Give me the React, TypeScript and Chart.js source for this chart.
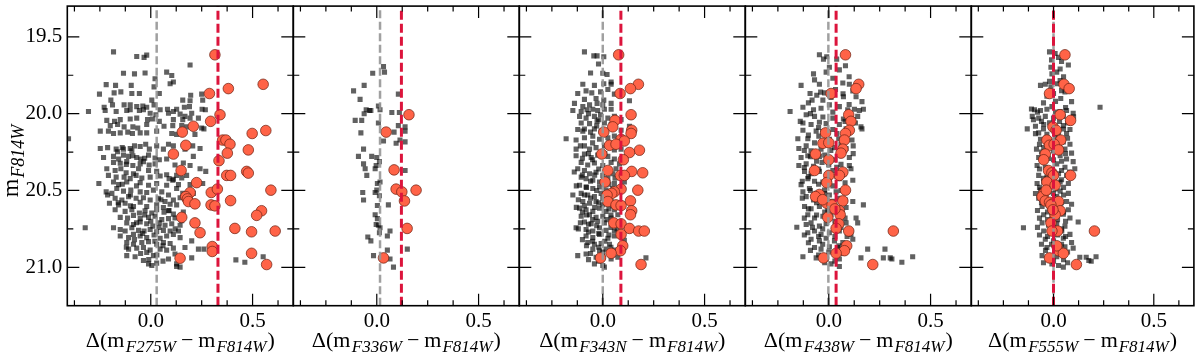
import React, { useEffect, useRef } from 'react';
import { Chart, registerables } from 'chart.js';

Chart.register(...registerables);

// ---------------- axis ranges & ticks ----------------
const X_MIN = -0.41;
const X_MAX = 0.70;
const Y_TOP = 19.30;
const Y_BOTTOM = 21.25;
const xMajorTicks = [0.0, 0.5];
const xMinorTicks = [-0.375, -0.25, -0.125, 0.125, 0.25, 0.375, 0.625];
const yMajorTicks = [19.5, 20.0, 20.5, 21.0];
const yMinorTicks = [19.75, 20.25, 20.75];

// ---------------- panels ----------------
const filters = ['F275W', 'F336W', 'F343N', 'F438W', 'F555W'];
const referenceFilter = 'F814W';
const grayLineX = [0.029, 0.016, 0.0, -0.002, 0.0];
const redLineX = [0.330, 0.121, 0.089, 0.036, 0.0];

type Pt = [number, number];

// Panel 1: Δ(mF275W − mF814W)
const f275Stars: Pt[] = [
  [-0.183,19.598],[-0.069,19.628],[-0.033,19.634],[-0.020,19.619],[0.193,19.683],[-0.134,19.737],[-0.080,19.741],[-0.028,19.735],
  [0.021,19.773],[0.078,19.730],[0.103,19.752],[0.095,19.805],[0.111,19.794],[-0.219,19.811],[-0.173,19.816],[-0.096,19.816],
  [0.016,19.826],[0.042,19.869],[-0.252,19.873],[-0.180,19.865],[-0.147,19.858],[-0.093,19.869],[-0.056,19.869],[0.196,19.880],
  [0.250,19.873],[-0.196,19.912],[0.005,19.912],[0.157,19.912],[0.193,19.916],[0.255,19.912],[-0.229,19.958],[-0.188,19.943],
  [-0.131,19.943],[-0.101,19.943],[-0.069,19.954],[-0.039,19.950],[-0.020,19.958],[0.016,19.943],[0.046,19.975],[0.082,19.971],
  [0.127,19.971],[0.165,19.958],[0.190,19.954],[0.252,19.971],[0.268,19.975],[-0.306,19.986],[-0.224,19.980],[-0.170,19.986],
  [-0.118,19.980],[-0.101,19.975],[-0.056,19.980],[-0.036,19.975],[-0.003,19.997],[0.025,20.007],[0.087,19.997],[0.111,19.986],
  [0.144,20.003],[0.168,20.018],[0.201,19.997],[-0.216,20.044],[-0.178,20.050],[-0.150,20.039],[-0.101,20.035],[-0.069,20.029],
  [-0.016,20.039],[0.008,20.035],[0.042,20.050],[0.111,20.039],[0.157,20.039],[0.193,20.029],[0.234,20.029],[-0.199,20.078],
  [-0.163,20.071],[-0.131,20.086],[-0.088,20.086],[-0.064,20.093],[-0.020,20.071],[0.065,20.082],[0.108,20.078],[0.152,20.078],
  [0.176,20.086],[0.250,20.093],[0.261,20.099],[-0.248,20.114],[-0.208,20.114],[-0.183,20.129],[-0.150,20.125],[-0.113,20.120],
  [-0.090,20.129],[-0.052,20.125],[-0.020,20.125],[0.029,20.114],[0.103,20.129],[0.127,20.135],[0.217,20.135],[-0.404,20.163],
  [-0.248,20.227],[-0.212,20.221],[-0.170,20.231],[-0.163,20.248],[-0.134,20.231],[-0.101,20.227],[-0.093,20.242],[-0.052,20.214],
  [-0.025,20.199],[-0.007,20.231],[0.029,20.210],[0.062,20.231],[0.087,20.199],[0.111,20.210],[0.168,20.231],[0.206,20.210],
  [0.242,20.227],[-0.232,20.285],[-0.183,20.278],[-0.158,20.295],[-0.134,20.270],[-0.109,20.278],[-0.088,20.274],[-0.069,20.285],
  [-0.049,20.295],[-0.011,20.270],[0.021,20.289],[0.042,20.300],[0.078,20.295],[0.209,20.278],[-0.183,20.317],[-0.150,20.323],
  [-0.118,20.312],[-0.088,20.338],[-0.052,20.327],[-0.036,20.312],[-0.008,20.334],[0.021,20.327],[0.119,20.334],[0.160,20.321],
  [0.193,20.338],[0.242,20.359],[-0.216,20.359],[-0.175,20.370],[-0.147,20.359],[-0.121,20.385],[-0.085,20.391],[-0.060,20.359],
  [-0.011,20.370],[0.029,20.376],[0.078,20.398],[0.127,20.402],[0.176,20.402],[0.270,20.376],[-0.208,20.402],[-0.170,20.413],
  [-0.131,20.413],[-0.101,20.423],[-0.072,20.402],[-0.044,20.419],[-0.003,20.413],[0.046,20.406],[0.090,20.423],[0.111,20.427],
  [0.152,20.419],[0.255,20.455],[-0.255,20.455],[-0.183,20.445],[-0.158,20.462],[-0.118,20.445],[-0.052,20.449],[-0.011,20.466],
  [0.029,20.455],[0.078,20.466],[0.108,20.434],[0.136,20.462],[0.193,20.462],[-0.219,20.509],[-0.191,20.519],[-0.167,20.487],
  [-0.134,20.504],[-0.098,20.498],[-0.052,20.509],[-0.020,20.513],[0.013,20.498],[0.054,20.509],[0.087,20.530],[0.127,20.487],
  [0.157,20.519],[0.209,20.519],[-0.212,20.530],[-0.175,20.551],[-0.142,20.562],[-0.109,20.540],[-0.072,20.551],[-0.036,20.547],
  [-0.003,20.562],[0.038,20.551],[0.070,20.572],[0.111,20.562],[0.144,20.547],[-0.203,20.583],[-0.158,20.594],[-0.126,20.583],
  [-0.085,20.604],[-0.052,20.577],[-0.020,20.604],[0.029,20.594],[0.062,20.611],[0.095,20.590],[0.127,20.594],[-0.175,20.626],
  [-0.126,20.636],[-0.093,20.626],[-0.056,20.647],[-0.028,20.632],[0.005,20.647],[0.029,20.626],[0.065,20.641],[0.087,20.632],
  [0.111,20.654],[0.160,20.641],[-0.150,20.675],[-0.114,20.679],[-0.085,20.662],[-0.052,20.683],[-0.011,20.675],[0.021,20.668],
  [0.054,20.690],[0.087,20.683],[0.119,20.679],[0.152,20.696],[-0.118,20.711],[-0.085,20.722],[-0.052,20.705],[-0.020,20.717],
  [0.010,20.732],[0.042,20.711],[0.070,20.726],[0.103,20.717],[0.144,20.726],[-0.322,20.743],[-0.183,20.743],[-0.150,20.754],
  [-0.126,20.764],[-0.093,20.743],[-0.060,20.760],[-0.033,20.764],[-0.003,20.754],[0.029,20.769],[0.062,20.760],[0.095,20.764],
  [0.136,20.764],[-0.150,20.796],[-0.109,20.807],[-0.085,20.786],[-0.052,20.796],[-0.020,20.807],[0.016,20.790],[0.046,20.811],
  [0.078,20.796],[0.111,20.786],[0.144,20.807],[-0.118,20.839],[-0.085,20.850],[-0.044,20.839],[-0.011,20.833],[0.029,20.850],
  [0.062,20.839],[0.095,20.845],[0.201,20.828],[0.168,20.871],[-0.109,20.882],[-0.069,20.875],[-0.036,20.871],[-0.003,20.888],
  [0.046,20.882],[0.078,20.888],[0.111,20.875],[0.234,20.882],[0.261,20.882],[-0.118,20.924],[-0.077,20.931],[-0.020,20.903],
  [0.013,20.924],[0.119,20.914],[-0.036,20.956],[-0.011,20.978],[0.005,20.988],[0.029,20.973],[0.087,20.946],[0.127,20.978],
  [0.201,20.939],[0.418,20.952],[0.462,20.967],[0.552,20.931],[0.127,20.995],[0.144,20.999],
  [-0.10,20.60],[-0.03,20.66],[0.00,20.70],[-0.07,20.71],[0.04,20.74],[-0.04,20.78],[0.02,20.83],[-0.08,20.82],[0.06,20.86],
  [-0.05,20.91],[0.03,20.92],[-0.01,20.95],[0.06,20.96],[-0.12,20.87],[-0.14,20.46],[-0.07,20.47],[-0.12,20.33],[-0.03,20.29],
  [-0.14,20.22],[-0.08,20.21],[0.09,20.63],[0.05,20.56],[-0.10,20.53],[-0.16,20.58],[0.12,20.75],
];
const f275Selected: Pt[] = [
  [0.315,19.617],[0.288,19.869],[0.381,19.837],[0.552,19.809],[0.340,20.007],[0.294,20.050],[0.209,20.082],[0.155,20.120],
  [0.498,20.129],[0.565,20.110],[0.353,20.172],[0.369,20.172],[0.389,20.199],[0.172,20.206],[0.376,20.257],[0.479,20.236],
  [0.111,20.263],[0.335,20.306],[0.149,20.370],[0.471,20.376],[0.479,20.387],[0.373,20.402],[0.392,20.402],[0.225,20.449],
  [0.590,20.498],[0.193,20.513],[0.297,20.513],[0.327,20.491],[0.172,20.540],[0.180,20.555],[0.185,20.572],[0.217,20.587],
  [0.296,20.594],[0.315,20.600],[0.392,20.566],[0.544,20.632],[0.520,20.662],[0.152,20.675],[0.217,20.711],[0.413,20.747],
  [0.242,20.775],[0.495,20.769],[0.611,20.764],[0.302,20.865],[0.302,20.897],[0.495,20.909],[0.144,20.941],[0.569,20.982],
];

// Panel 2: Δ(mF336W − mF814W)
const f336Stars: Pt[] = [
  [0.033,19.694],[0.038,19.730],[-0.020,19.737],[-0.062,19.816],[-0.114,19.852],[-0.082,19.907],[0.106,19.873],[0.008,19.950],
  [-0.052,19.975],[-0.036,19.980],[-0.029,19.980],[-0.062,20.001],[0.016,19.975],[0.074,19.993],[0.111,19.993],[-0.106,20.044],
  [-0.074,20.044],[0.008,20.061],[0.106,20.078],[0.139,20.086],[0.085,20.120],[0.139,20.114],[-0.078,20.125],[0.033,20.178],
  [0.114,20.172],[0.095,20.193],[0.139,20.184],[-0.065,20.231],[-0.090,20.278],[-0.025,20.278],[0.000,20.285],[0.013,20.312],
  [-0.065,20.327],[-0.003,20.338],[-0.008,20.359],[-0.057,20.359],[-0.049,20.402],[0.139,20.370],[0.003,20.455],[0.016,20.445],
  [0.000,20.498],[-0.069,20.513],[-0.008,20.513],[0.013,20.534],[-0.065,20.562],[0.057,20.594],[0.003,20.598],[-0.008,20.658],
  [0.003,20.683],[-0.003,20.722],[0.008,20.726],[0.016,20.743],[0.065,20.764],[0.013,20.775],[-0.044,20.803],[0.052,20.796],
  [-0.029,20.828],[0.052,20.888],[0.150,20.882],[-0.016,20.924],[0.065,20.946],[0.082,20.999],
];
const f336Selected: Pt[] = [
  [0.158,20.007],[0.046,20.120],[0.085,20.366],[0.095,20.491],[0.123,20.509],[0.193,20.498],[0.136,20.568],[0.149,20.747],
  [0.033,20.939],
];

// Panel 3: Δ(mF343N − mF814W)
const f343Stars: Pt[] = [
  [-0.090,19.598],[-0.044,19.624],[-0.028,19.624],[0.005,19.630],[-0.021,19.677],[-0.060,19.735],[0.000,19.737],[0.021,19.745],
  [0.041,19.794],[-0.098,19.809],[-0.041,19.816],[0.005,19.805],[0.041,19.809],[-0.123,19.869],[-0.082,19.852],[-0.054,19.865],
  [-0.011,19.858],[0.025,19.843],[0.057,19.873],[-0.090,19.907],[-0.033,19.901],[0.005,19.912],[0.131,19.916],[-0.139,19.933],
  [-0.098,19.954],[-0.065,19.943],[-0.028,19.933],[0.000,19.943],[0.041,19.933],[-0.147,19.980],[-0.106,19.986],[-0.077,19.975],
  [-0.049,19.971],[-0.025,19.980],[0.008,19.971],[0.041,19.971],[-0.114,20.018],[-0.082,20.029],[-0.041,20.018],[-0.011,20.007],
  [0.025,20.029],[0.057,20.018],[0.090,20.039],[-0.106,20.061],[-0.065,20.065],[-0.028,20.050],[0.008,20.061],[0.041,20.071],
  [0.131,20.082],[-0.123,20.103],[-0.098,20.114],[-0.041,20.099],[-0.008,20.114],[0.090,20.108],[-0.180,20.163],[-0.131,20.172],
  [-0.090,20.157],[-0.049,20.146],[-0.016,20.167],[0.025,20.157],[0.057,20.146],[-0.131,20.231],[-0.090,20.210],[-0.065,20.231],
  [-0.033,20.221],[0.008,20.210],[0.057,20.236],[0.090,20.231],[-0.131,20.274],[-0.090,20.263],[-0.057,20.285],[-0.025,20.270],
  [0.025,20.278],[0.057,20.295],[-0.106,20.317],[-0.074,20.334],[-0.041,20.321],[0.000,20.338],[0.041,20.317],[0.082,20.327],
  [-0.123,20.359],[-0.090,20.370],[-0.065,20.391],[-0.033,20.381],[0.000,20.402],[0.049,20.391],[0.065,20.359],[-0.106,20.413],
  [-0.082,20.423],[-0.049,20.434],[-0.016,20.445],[0.025,20.423],[0.057,20.455],[0.106,20.445],[-0.114,20.466],[-0.082,20.477],
  [-0.049,20.487],[-0.016,20.477],[0.016,20.498],[0.049,20.487],[-0.147,20.530],[-0.106,20.519],[-0.074,20.530],[-0.041,20.540],
  [-0.008,20.519],[0.033,20.551],[-0.098,20.572],[-0.065,20.583],[-0.033,20.572],[0.000,20.594],[0.041,20.572],[0.082,20.583],
  [-0.114,20.615],[-0.082,20.626],[-0.049,20.636],[-0.016,20.615],[0.016,20.636],[0.057,20.626],[-0.106,20.668],[-0.065,20.658],
  [-0.033,20.675],[0.000,20.668],[0.041,20.679],[0.074,20.658],[-0.090,20.705],[-0.057,20.717],[-0.025,20.700],[0.008,20.711],
  [0.057,20.722],[-0.131,20.743],[-0.082,20.754],[-0.049,20.764],[-0.016,20.743],[0.016,20.760],[0.057,20.764],[-0.082,20.796],
  [-0.049,20.807],[-0.016,20.786],[0.025,20.811],[0.057,20.796],[0.106,20.824],[-0.074,20.839],[-0.041,20.850],[-0.008,20.845],
  [0.033,20.850],[-0.049,20.882],[-0.016,20.892],[0.016,20.882],[0.057,20.888],[-0.123,20.924],[-0.082,20.914],[-0.033,20.935],
  [0.000,20.931],[0.041,20.946],[-0.041,20.978],[0.000,20.988],[0.008,20.999],[0.212,20.939],[0.074,20.935],
  [-0.07,20.26],[-0.05,20.30],[-0.10,20.40],[-0.06,20.44],[-0.02,20.36],[-0.08,20.48],[-0.03,20.50],[-0.12,20.56],[-0.06,20.55],
  [-0.02,20.58],[0.01,20.53],[-0.09,20.60],[-0.04,20.61],[0.03,20.62],[-0.10,20.64],[-0.05,20.69],[0.02,20.69],[-0.11,20.71],
  [-0.03,20.73],[0.04,20.74],[-0.07,20.77],[-0.02,20.78],[0.03,20.79],[-0.10,20.82],[-0.05,20.83],[0.01,20.83],[-0.08,20.86],
  [-0.02,20.87],[0.04,20.87],[-0.06,20.91],[0.00,20.90],[0.05,20.92],[-0.07,20.95],[-0.02,20.96],[-0.09,20.10],[-0.06,20.12],
  [-0.03,20.08],[-0.07,20.00],[-0.02,20.04],[-0.11,20.21],[-0.05,20.19],[0.03,20.19],[-0.10,20.29],[0.01,20.26],[-0.14,20.38],
  [0.02,20.38],[-0.04,20.40],[0.06,20.42],[-0.13,20.47],[0.03,20.46],[-0.09,20.53],[0.06,20.52],[0.00,20.55],[-0.13,20.61],
  [0.05,20.60],[-0.08,20.66],[0.04,20.66],[-0.12,20.75],[0.07,20.75],[-0.07,20.72],
];
const f343Selected: Pt[] = [
  [0.078,19.617],[0.175,19.809],[0.136,19.837],[0.085,19.869],[0.139,20.007],[0.060,20.044],[0.049,20.086],[0.005,20.120],
  [0.142,20.108],[0.139,20.129],[0.090,20.167],[0.106,20.178],[0.033,20.206],[0.065,20.199],[0.180,20.238],[0.131,20.253],
  [-0.005,20.263],[0.101,20.300],[0.025,20.370],[0.142,20.376],[0.196,20.385],[0.087,20.402],[0.106,20.402],[0.011,20.445],
  [0.090,20.491],[0.172,20.498],[0.057,20.509],[0.044,20.519],[0.021,20.530],[0.025,20.572],[0.065,20.594],[0.090,20.598],
  [0.136,20.568],[0.142,20.632],[0.136,20.658],[0.054,20.711],[0.090,20.717],[0.131,20.747],[0.176,20.764],[0.204,20.764],
  [0.098,20.860],[0.087,20.892],[0.041,20.909],[-0.011,20.939],[0.188,20.982],[0.090,20.786],
];

// Panel 4: Δ(mF438W − mF814W)
const f438Stars: Pt[] = [
  [-0.046,19.617],[-0.010,19.630],[-0.026,19.645],[0.039,19.645],[0.082,19.688],[0.003,19.698],[0.052,19.715],[-0.075,19.741],
  [-0.013,19.730],[-0.046,19.809],[-0.136,19.816],[-0.092,19.869],[-0.059,19.880],[-0.021,19.865],[0.033,19.843],[0.069,19.801],
  [0.101,19.809],[0.118,19.852],[0.163,19.922],[0.134,19.890],[0.072,19.890],[0.011,19.894],[-0.029,19.912],[-0.082,19.912],
  [-0.127,19.958],[-0.190,19.986],[-0.075,19.975],[-0.038,19.965],[0.003,19.943],[0.052,19.954],[0.093,19.975],[0.126,19.971],
  [0.150,19.980],[0.170,19.971],[0.142,20.018],[-0.111,20.007],[-0.070,20.018],[-0.029,20.022],[0.020,20.029],[0.072,20.035],
  [0.158,20.086],[0.131,20.061],[-0.127,20.061],[-0.087,20.071],[-0.046,20.056],[-0.013,20.065],[0.052,20.071],[-0.127,20.108],
  [-0.062,20.114],[0.020,20.103],[0.085,20.099],[0.163,20.099],[-0.152,20.163],[-0.103,20.163],[-0.049,20.146],[0.003,20.167],
  [0.049,20.163],[0.114,20.172],[-0.147,20.227],[-0.111,20.210],[-0.087,20.242],[-0.038,20.231],[0.028,20.221],[0.085,20.227],
  [-0.136,20.285],[-0.103,20.274],[-0.046,20.278],[0.003,20.291],[0.052,20.263],[0.101,20.285],[-0.147,20.338],[-0.111,20.327],
  [-0.075,20.342],[-0.033,20.317],[0.000,20.334],[0.039,20.349],[0.101,20.338],[-0.119,20.376],[-0.087,20.391],[-0.046,20.376],
  [0.020,20.370],[0.077,20.391],[0.109,20.359],[-0.136,20.462],[-0.103,20.423],[-0.070,20.440],[-0.029,20.445],[0.003,20.434],
  [0.052,20.423],[0.118,20.434],[-0.127,20.509],[-0.095,20.487],[-0.062,20.519],[-0.021,20.498],[0.036,20.509],[0.085,20.487],
  [-0.111,20.540],[-0.075,20.562],[-0.038,20.551],[0.003,20.530],[0.052,20.551],[0.118,20.572],[0.170,20.594],[-0.119,20.604],
  [-0.087,20.619],[-0.046,20.604],[-0.005,20.626],[0.036,20.615],[0.085,20.611],[-0.103,20.658],[-0.070,20.679],[-0.029,20.668],
  [0.011,20.658],[0.052,20.679],[0.134,20.679],[0.142,20.711],[-0.157,20.739],[-0.111,20.722],[-0.087,20.711],[-0.046,20.732],
  [-0.013,20.717],[0.036,20.726],[0.085,20.711],[-0.103,20.775],[-0.070,20.764],[-0.038,20.786],[0.003,20.775],[0.052,20.764],
  [0.109,20.786],[-0.087,20.818],[-0.046,20.828],[-0.013,20.811],[0.028,20.828],[0.069,20.839],[0.118,20.818],[-0.070,20.871],
  [-0.038,20.882],[0.003,20.867],[0.044,20.871],[0.191,20.882],[0.276,20.882],[-0.127,20.931],[-0.062,20.939],[-0.013,20.946],
  [0.052,20.946],[0.158,20.939],[0.268,20.939],[0.302,20.939],[0.310,20.946],[0.359,20.967],[0.412,20.931],[0.011,20.978],
  [0.052,20.995],
  [-0.09,20.28],[-0.06,20.31],[-0.02,20.27],[0.03,20.30],[-0.12,20.35],[-0.05,20.36],[0.06,20.33],[-0.10,20.41],[-0.01,20.40],
  [0.04,20.41],[-0.13,20.44],[-0.05,20.46],[0.02,20.47],[0.08,20.45],[-0.09,20.50],[-0.02,20.52],[0.06,20.50],[-0.13,20.55],
  [-0.06,20.58],[0.02,20.57],[0.08,20.56],[-0.10,20.62],[-0.02,20.64],[0.06,20.63],[-0.12,20.68],[-0.06,20.66],[0.03,20.70],
  [0.08,20.68],[-0.08,20.74],[-0.03,20.75],[0.06,20.74],[-0.12,20.79],[-0.05,20.80],[0.03,20.80],[0.09,20.80],[-0.10,20.84],
  [-0.03,20.85],[0.05,20.86],[-0.09,20.89],[0.00,20.90],[0.07,20.91],[-0.05,20.92],[-0.02,20.97],[0.03,20.96],[-0.10,20.14],
  [-0.03,20.12],[0.04,20.13],[0.10,20.12],[-0.07,20.19],[0.06,20.20],[0.12,20.21],[-0.12,20.24],[0.01,20.24],[0.12,20.26],
  [-0.14,20.05],[-0.05,20.09],[0.08,20.05],[0.12,20.04],[-0.09,20.00],[0.02,19.99],[0.10,19.94],[-0.10,19.93],[-0.04,19.86],
  [0.07,19.87],[-0.07,19.78],[0.02,19.77],[0.10,19.76],
];
const f438Selected: Pt[] = [
  [0.082,19.617],[0.147,19.809],[0.134,19.837],[0.011,19.869],[0.098,20.007],[0.109,20.050],[-0.016,20.125],[0.101,20.108],
  [0.082,20.129],[0.077,20.172],[-0.029,20.193],[0.000,20.189],[0.069,20.231],[0.060,20.257],[-0.065,20.263],[0.000,20.300],
  [-0.070,20.370],[0.069,20.381],[0.052,20.402],[0.000,20.402],[-0.010,20.449],[0.082,20.498],[-0.046,20.526],[-0.065,20.540],
  [0.069,20.568],[-0.010,20.583],[0.016,20.594],[0.052,20.632],[0.056,20.658],[-0.005,20.675],[0.049,20.717],[0.036,20.747],
  [0.098,20.764],[0.317,20.764],[0.088,20.860],[0.077,20.892],[0.036,20.909],[-0.026,20.939],[0.216,20.982],[-0.030,20.560],
  [0.030,20.620],
];

// Panel 5: Δ(mF555W − mF814W)
const f555Stars: Pt[] = [
  [-0.020,19.598],[0.008,19.609],[0.025,19.634],[0.074,19.683],[-0.013,19.698],[0.033,19.709],[-0.008,19.741],[0.016,19.730],
  [0.033,19.784],[-0.065,19.816],[-0.041,19.809],[-0.013,19.826],[0.020,19.805],[0.057,19.858],[-0.033,19.886],[0.000,19.869],
  [0.036,19.901],[0.090,19.922],[-0.095,19.975],[-0.065,19.980],[-0.033,19.971],[-0.008,19.954],[0.033,19.986],[0.065,19.980],
  [0.098,19.997],[-0.106,20.018],[-0.074,20.029],[-0.041,20.018],[0.000,20.029],[0.049,20.018],[0.082,20.035],[0.232,19.958],
  [-0.131,20.099],[-0.090,20.082],[-0.049,20.071],[-0.008,20.086],[0.049,20.078],[0.082,20.103],[-0.074,20.125],[-0.033,20.135],
  [0.025,20.135],[0.065,20.129],[-0.065,20.167],[-0.016,20.178],[0.049,20.184],[0.082,20.199],[-0.085,20.231],[-0.049,20.221],
  [0.000,20.242],[0.057,20.231],[0.090,20.257],[-0.074,20.285],[-0.025,20.291],[0.033,20.274],[0.065,20.295],[0.098,20.312],
  [-0.082,20.338],[-0.041,20.349],[0.016,20.327],[0.057,20.349],[0.106,20.359],[-0.074,20.402],[-0.033,20.413],[0.025,20.391],
  [0.065,20.402],[-0.082,20.455],[-0.049,20.445],[-0.008,20.466],[0.033,20.445],[0.074,20.455],[-0.065,20.498],[-0.025,20.509],
  [0.033,20.504],[0.074,20.519],[-0.074,20.551],[-0.033,20.562],[0.016,20.540],[0.065,20.572],[-0.057,20.604],[-0.016,20.615],
  [0.033,20.604],[0.074,20.626],[-0.049,20.658],[-0.008,20.668],[0.049,20.654],[0.082,20.679],[0.123,20.705],[-0.150,20.743],
  [-0.057,20.711],[-0.025,20.726],[0.016,20.717],[0.057,20.732],[-0.049,20.764],[-0.016,20.775],[0.041,20.764],[0.082,20.786],
  [-0.041,20.818],[0.000,20.828],[0.049,20.811],[0.090,20.839],[-0.033,20.871],[0.008,20.882],[0.057,20.867],[0.098,20.875],
  [-0.057,20.924],[0.016,20.931],[0.131,20.935],[0.163,20.935],[0.176,20.956],[0.188,20.961],[0.212,20.931],[0.025,20.988],
  [0.049,20.999],[-0.008,20.978],
  [-0.06,20.05],[-0.02,20.06],[0.03,20.05],[0.07,20.06],[-0.10,20.04],[-0.05,20.10],[0.01,20.11],[0.05,20.10],[-0.09,20.13],
  [-0.04,20.16],[0.01,20.15],[0.07,20.16],[-0.07,20.20],[-0.02,20.21],[0.03,20.20],[-0.06,20.25],[-0.03,20.26],[0.02,20.25],
  [0.06,20.26],[-0.05,20.31],[0.00,20.30],[0.04,20.31],[-0.07,20.36],[-0.01,20.37],[0.04,20.37],[0.08,20.38],[-0.05,20.42],
  [0.00,20.42],[0.04,20.43],[-0.07,20.48],[-0.03,20.48],[0.01,20.49],[0.05,20.48],[-0.09,20.52],[-0.05,20.53],[0.00,20.52],
  [0.05,20.53],[-0.06,20.58],[-0.01,20.58],[0.04,20.58],[0.09,20.59],[-0.08,20.63],[-0.03,20.64],[0.01,20.63],[0.05,20.64],
  [-0.07,20.68],[-0.03,20.69],[0.02,20.69],[0.06,20.70],[-0.08,20.74],[0.00,20.74],[0.04,20.75],[-0.07,20.79],[-0.03,20.80],
  [0.02,20.79],[0.06,20.80],[-0.06,20.85],[-0.01,20.85],[0.04,20.85],[-0.04,20.89],[0.03,20.90],[0.07,20.90],[-0.02,20.94],
  [0.05,20.95],[0.00,20.96],[-0.05,20.97],[0.07,20.97],[-0.08,19.99],[0.01,19.99],[0.06,19.96],[-0.11,19.97],[0.10,20.02],
  [-0.05,19.93],[0.01,19.92],[0.04,19.85],[-0.02,19.79],[0.05,19.76],[-0.01,19.65],[0.04,19.66],
];
const f555Selected: Pt[] = [
  [0.057,19.617],[0.052,19.809],[0.078,19.837],[-0.020,19.869],[0.033,20.007],[0.085,20.044],[-0.003,20.086],[0.013,20.108],
  [0.036,20.172],[-0.033,20.172],[-0.020,20.206],[0.003,20.199],[0.025,20.236],[-0.041,20.263],[-0.049,20.300],[0.085,20.402],
  [-0.025,20.370],[-0.008,20.385],[0.000,20.402],[-0.033,20.445],[-0.049,20.519],[-0.057,20.540],[-0.041,20.568],[-0.020,20.577],
  [0.000,20.583],[0.025,20.572],[0.033,20.632],[0.008,20.658],[-0.013,20.711],[0.020,20.764],[-0.008,20.764],[0.204,20.764],
  [0.025,20.892],[0.049,20.909],[-0.020,20.939],[0.114,20.982],[0.016,20.860],[-0.036,20.498],[0.008,20.466],[-0.013,20.594],
  [-0.003,20.626],
];

const starsByPanel = [f275Stars, f336Stars, f343Stars, f438Stars, f555Stars];
const selectedByPanel = [f275Selected, f336Selected, f343Selected, f438Selected, f555Selected];

// ---------------- layout / style ----------------
const CANVAS_W = 1200;
const CANVAS_H = 355;
const PANEL_LEFT = 67.3;
const PANEL_W = 226;
const PLOT_TOP = 1;
const X_AXIS_H = 49.3;
const SERIF = "'Liberation Serif', 'Times New Roman', Times, serif";

type Piece = { t: string; font: string; dy: number; gapBefore?: number };

function drawPieces(ctx: CanvasRenderingContext2D, pieces: Piece[], cx: number, baseline: number) {
  let total = 0;
  const widths = pieces.map((p) => {
    ctx.font = p.font;
    const w = ctx.measureText(p.t).width;
    total += w + (p.gapBefore || 0);
    return w;
  });
  let x = cx - total / 2;
  ctx.textBaseline = 'alphabetic';
  ctx.textAlign = 'left';
  pieces.forEach((p, i) => {
    x += p.gapBefore || 0;
    ctx.font = p.font;
    ctx.fillText(p.t, x, baseline + p.dy);
    x += widths[i];
  });
}

function zeroPadding(axis: any) {
  axis.paddingTop = 0;
  axis.paddingBottom = 0;
  axis.paddingLeft = 0;
  axis.paddingRight = 0;
}

function makeFramePlugin(index: number) {
  return {
    id: 'frameAndTitles' + index,
    afterDraw(chart: any) {
      const { ctx, chartArea: a, scales } = chart;
      const xs = scales.x;
      const ys = scales.y;
      ctx.save();
      ctx.strokeStyle = '#000';
      ctx.lineWidth = 1.2;
      ctx.beginPath();
      const xTick = (v: number, len: number) => {
        const px = xs.getPixelForValue(v);
        ctx.moveTo(px, a.bottom);
        ctx.lineTo(px, a.bottom - len);
        ctx.moveTo(px, a.top);
        ctx.lineTo(px, a.top + len);
      };
      const yTick = (v: number, len: number) => {
        const py = ys.getPixelForValue(v);
        ctx.moveTo(a.left, py);
        ctx.lineTo(a.left + len, py);
        ctx.moveTo(a.right, py);
        ctx.lineTo(a.right - len, py);
      };
      xMajorTicks.forEach((v) => xTick(v, 12));
      xMinorTicks.forEach((v) => xTick(v, 5.5));
      yMajorTicks.forEach((v) => yTick(v, 12));
      yMinorTicks.forEach((v) => yTick(v, 6));
      ctx.stroke();
      ctx.lineWidth = 1.6;
      ctx.strokeRect(a.left, a.top, a.right - a.left, a.bottom - a.top);

      // x-axis title
      ctx.fillStyle = '#000';
      const main = `22px ${SERIF}`;
      const sub = `italic 17px ${SERIF}`;
      drawPieces(
        ctx,
        [
          { t: 'Δ(m', font: main, dy: 0 },
          { t: filters[index], font: sub, dy: 5, gapBefore: 1.5 },
          { t: '−', font: main, dy: 0, gapBefore: 5 },
          { t: 'm', font: main, dy: 0, gapBefore: 5 },
          { t: referenceFilter, font: sub, dy: 5, gapBefore: 1 },
          { t: ')', font: main, dy: 0, gapBefore: 1 },
        ],
        (a.left + a.right) / 2,
        347
      );

      // y-axis title on the first panel
      if (index === 0) {
        ctx.save();
        ctx.translate(18, 161);
        ctx.rotate(-Math.PI / 2);
        drawPieces(
          ctx,
          [
            { t: 'm', font: `24px ${SERIF}`, dy: 0 },
            { t: referenceFilter, font: `italic 18px ${SERIF}`, dy: 6, gapBefore: 1 },
          ],
          0,
          0
        );
        ctx.restore();
      }
      ctx.restore();
    },
  };
}

function Panel({ index }: { index: number }) {
  const ref = useRef<HTMLCanvasElement>(null);
  useEffect(() => {
    const canvas = ref.current;
    if (!canvas) return;
    let chart: Chart | null = null;
    let cancelled = false;
    const left = PANEL_LEFT + index * PANEL_W;
    const first = index === 0;
    const build = () => {
      if (cancelled) return;
      chart = new Chart(canvas, {
        type: 'scatter',
        data: {
          datasets: [
            {
              label: 'red',
              data: [
                { x: redLineX[index], y: Y_BOTTOM },
                { x: redLineX[index], y: Y_TOP },
              ],
              showLine: true,
              borderColor: '#DC143C',
              borderWidth: 3,
              borderDash: [9, 4],
              pointRadius: 0,
              order: 0,
            },
            {
              label: 'gray',
              data: [
                { x: grayLineX[index], y: Y_BOTTOM },
                { x: grayLineX[index], y: Y_TOP },
              ],
              showLine: true,
              borderColor: 'rgba(150,150,150,0.9)',
              borderWidth: 2.5,
              borderDash: [8, 3.5],
              pointRadius: 0,
              order: 1,
            },
            {
              label: 'selected',
              data: selectedByPanel[index].map(([x, y]) => ({ x, y })),
              pointStyle: 'circle',
              pointRadius: 5.3,
              backgroundColor: '#FF6347',
              borderColor: 'rgba(110,35,20,0.9)',
              borderWidth: 0.8,
              order: 2,
            },
            {
              label: 'stars',
              data: starsByPanel[index].map(([x, y]) => ({ x, y })),
              pointStyle: 'rect',
              pointRadius: 3.6,
              backgroundColor: 'rgba(0,0,0,0.62)',
              borderWidth: 0,
              order: 3,
            },
          ] as any,
        },
        options: {
          animation: false,
          responsive: false,
          devicePixelRatio: 1,
          events: [],
          layout: {
            padding: {
              left: first ? 0 : left,
              right: CANVAS_W - left - PANEL_W,
              top: PLOT_TOP,
              bottom: 0,
            },
          },
          plugins: { legend: { display: false }, tooltip: { enabled: false } },
          scales: {
            x: {
              type: 'linear',
              min: X_MIN,
              max: X_MAX,
              grid: { display: false, drawTicks: false },
              border: { display: false },
              afterBuildTicks: (axis: any) => {
                axis.ticks = xMajorTicks.map((v) => ({ value: v }));
              },
              afterFit: (axis: any) => {
                axis.height = X_AXIS_H;
                zeroPadding(axis);
              },
              ticks: {
                color: '#000',
                padding: 3,
                font: { family: SERIF, size: 21 },
                maxRotation: 0,
                autoSkip: false,
                callback: (v: any) => Number(v).toFixed(1),
              },
            },
            y: {
              type: 'linear',
              display: first,
              reverse: true,
              min: Y_TOP,
              max: Y_BOTTOM,
              grid: { display: false, drawTicks: false },
              border: { display: false },
              afterBuildTicks: (axis: any) => {
                axis.ticks = yMajorTicks.map((v) => ({ value: v }));
              },
              afterFit: (axis: any) => {
                axis.width = first ? PANEL_LEFT : 0;
                zeroPadding(axis);
              },
              ticks: {
                color: '#000',
                padding: 5,
                font: { family: SERIF, size: 21 },
                autoSkip: false,
                callback: (v: any) => Number(v).toFixed(1),
              },
            },
          },
        } as any,
        plugins: [makeFramePlugin(index)],
      });
    };
    const fonts: any = (document as any).fonts;
    if (fonts && fonts.load) {
      Promise.all([
        fonts.load("21px 'Liberation Serif'"),
        fonts.load("italic 17px 'Liberation Serif'"),
      ])
        .catch(() => undefined)
        .then(build);
    } else {
      build();
    }
    return () => {
      cancelled = true;
      if (chart) chart.destroy();
    };
  }, [index]);
  return (
    <canvas
      ref={ref}
      width={CANVAS_W}
      height={CANVAS_H}
      style={{ position: 'absolute', left: 0, top: 0, width: CANVAS_W, height: CANVAS_H }}
    />
  );
}

export default function App() {
  return (
    <div
      style={{
        position: 'absolute',
        left: 0,
        top: 0,
        width: CANVAS_W,
        height: CANVAS_H,
        background: '#fff',
        overflow: 'hidden',
      }}
    >
      {filters.map((f, i) => (
        <Panel key={f} index={i} />
      ))}
    </div>
  );
}
